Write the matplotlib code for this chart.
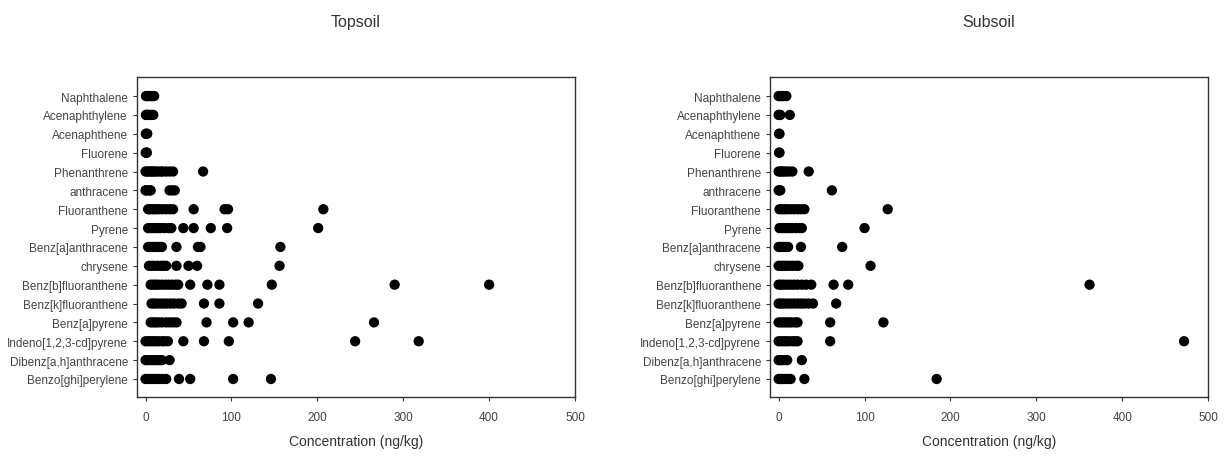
import matplotlib.pyplot as plt
import numpy as np

plt.rcParams['font.family'] = ['Liberation Sans', 'DejaVu Sans']

compounds = ['Naphthalene', 'Acenaphthylene', 'Acenaphthene', 'Fluorene',
             'Phenanthrene', 'anthracene', 'Fluoranthene', 'Pyrene',
             'Benz[a]anthracene', 'chrysene', 'Benz[b]fluoranthene',
             'Benz[k]fluoranthene', 'Benz[a]pyrene', 'Indeno[1,2,3-cd]pyrene',
             'Dibenz[a,h]anthracene', 'Benzo[ghi]perylene']

# concentrations, one list per compound
topsoil = [
    [0.5, 2, 3, 5, 7, 9, 10],
    [0.5, 1, 2, 3, 5, 7, 9],
    [0.3, 1, 2],
    [0.2, 1, 1.5],
    [0, 2, 4, 6, 8, 10, 12, 15, 18, 20, 24, 28, 32, 67],
    [0, 1, 3, 5, 6, 28, 31, 34],
    [3, 5, 8, 10, 13, 16, 20, 24, 28, 32, 56, 92, 96, 207],
    [3, 6, 9, 12, 15, 18, 22, 27, 30, 44, 56, 76, 95, 201],
    [3, 5, 8, 11, 14, 17, 19, 36, 61, 64, 157],
    [4, 7, 10, 14, 18, 21, 24, 36, 50, 60, 156],
    [6, 9, 12, 15, 19, 23, 27, 31, 35, 38, 52, 72, 86, 147, 290, 400],
    [7, 10, 13, 17, 21, 25, 29, 33, 38, 42, 68, 86, 131],
    [6, 9, 12, 15, 19, 24, 28, 32, 36, 71, 102, 120, 266],
    [0, 3, 6, 9, 12, 15, 19, 22, 26, 44, 68, 97, 244, 318],
    [0, 2, 5, 8, 11, 14, 17, 19, 28],
    [0, 3, 6, 9, 12, 16, 20, 24, 39, 52, 102, 146],
]

subsoil = [
    [0, 2, 4, 6, 9],
    [0, 1, 2, 13],
    [0.5, 1],
    [0.5, 1],
    [0, 2, 4, 6, 9, 12, 16, 35],
    [0, 1, 2, 62],
    [1, 4, 7, 10, 14, 18, 22, 26, 30, 127],
    [1, 4, 7, 10, 13, 16, 20, 24, 27, 100],
    [0, 2, 5, 8, 11, 26, 74],
    [0, 3, 6, 9, 12, 16, 20, 23, 107],
    [0, 3, 6, 10, 14, 18, 22, 27, 32, 38, 64, 81, 362],
    [0, 3, 6, 10, 14, 18, 22, 26, 30, 35, 40, 67],
    [0, 3, 6, 9, 12, 15, 19, 22, 60, 122],
    [0, 3, 6, 9, 12, 16, 19, 22, 60, 472],
    [0, 2, 4, 7, 10, 27],
    [0, 2, 4, 6, 9, 12, 14, 30, 184],
]

fig = plt.figure(figsize=(12.25, 4.6), dpi=100)
ax1 = fig.add_axes([0.1118, 0.135, 0.3576, 0.695])
ax2 = fig.add_axes([0.6286, 0.135, 0.3576, 0.695])

for ax, data, title in [(ax1, topsoil, 'Topsoil'), (ax2, subsoil, 'Subsoil')]:
    for i, vals in enumerate(data):
        ax.scatter(vals, [i] * len(vals), s=55, c='black', edgecolors='none')
    ax.set_yticks(range(len(compounds)))
    ax.set_yticklabels(compounds)
    ax.set_ylim(15.95, -1.0)
    ax.set_xlim(-10, 500)
    ax.set_xticks([0, 100, 200, 300, 400, 500])
    ax.tick_params(axis='both', labelsize=8.5, length=3, color='#333333',
                   labelcolor='#444444')
    ax.tick_params(axis='x', pad=7)
    ax.set_xlabel('Concentration (ng/kg)', fontsize=10, labelpad=8, color='#333333')
    ax.set_title(title, fontsize=11.5, pad=37, color='#333333')
    for sp in ax.spines.values():
        sp.set_color('#333333')
        sp.set_linewidth(1.0)

fig.savefig('out.png', dpi=100)
